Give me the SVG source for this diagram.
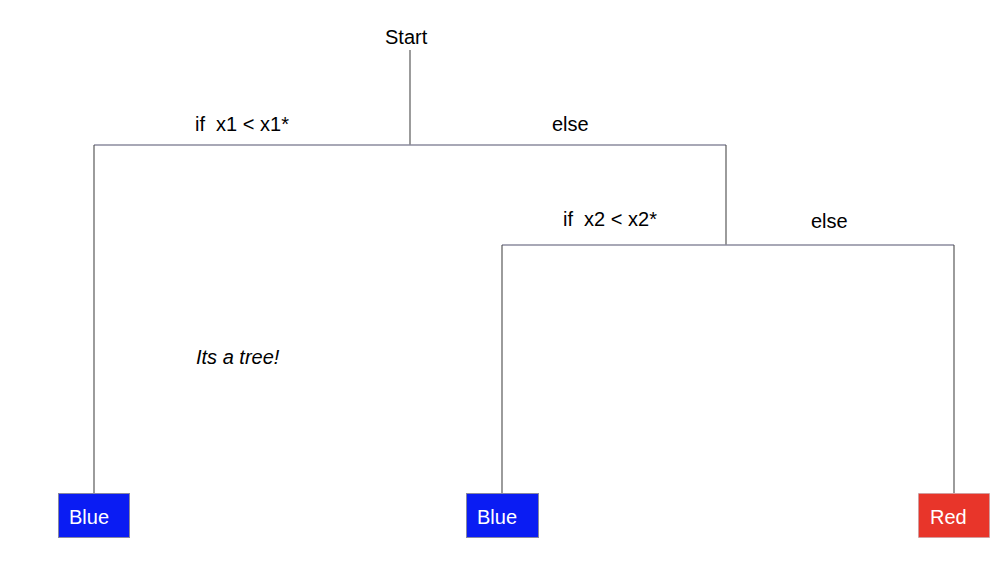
<svg xmlns="http://www.w3.org/2000/svg" width="1008" height="584" viewBox="0 0 1008 584">
<style>
text{font-family:"Liberation Sans",Arial,sans-serif;font-size:20px;fill:#000;white-space:pre}
.w{fill:#fff}
.h{stroke:#8b8b9e;stroke-width:1.6;fill:none}
.v{stroke:#4a4a4a;stroke-width:1.1;fill:none}
.blue{fill:#0a1cf3;stroke:#8888a0;stroke-width:1}
.red{fill:#e8352a;stroke:#b0a0a8;stroke-width:1;stroke-dasharray:1 1}
</style>
<rect width="1008" height="584" fill="#fff"/>
<g id="connectors">
<line class="v" x1="410" y1="50" x2="410" y2="145"/>
<line class="h" x1="94" y1="145" x2="726" y2="145"/>
<line class="v" x1="94" y1="145" x2="94" y2="493"/>
<line class="v" x1="726" y1="145" x2="726" y2="245"/>
<line class="h" x1="502" y1="245" x2="954" y2="245"/>
<line class="v" x1="502" y1="245" x2="502" y2="493"/>
<line class="v" x1="954" y1="245" x2="954" y2="493"/>
</g>
<g id="start"><text x="385" y="44">Start</text></g>
<g id="label-if1"><text x="195" y="131" xml:space="preserve">if  x1 &lt; x1*</text></g>
<g id="label-else1"><text x="552" y="131">else</text></g>
<g id="label-if2"><text x="563" y="226" xml:space="preserve">if  x2 &lt; x2*</text></g>
<g id="label-else2"><text x="811" y="228">else</text></g>
<g id="note"><text x="196" y="364" font-style="italic">Its a tree!</text></g>
<g id="leaf-blue1"><rect class="blue" x="58.5" y="493.5" width="71" height="44"/><text class="w" x="69" y="524">Blue</text></g>
<g id="leaf-blue2"><rect class="blue" x="466.5" y="493.5" width="72" height="44"/><text class="w" x="477" y="524">Blue</text></g>
<g id="leaf-red"><rect class="red" x="918.5" y="493.5" width="71" height="44"/><text class="w" x="930" y="524">Red</text></g>
</svg>
